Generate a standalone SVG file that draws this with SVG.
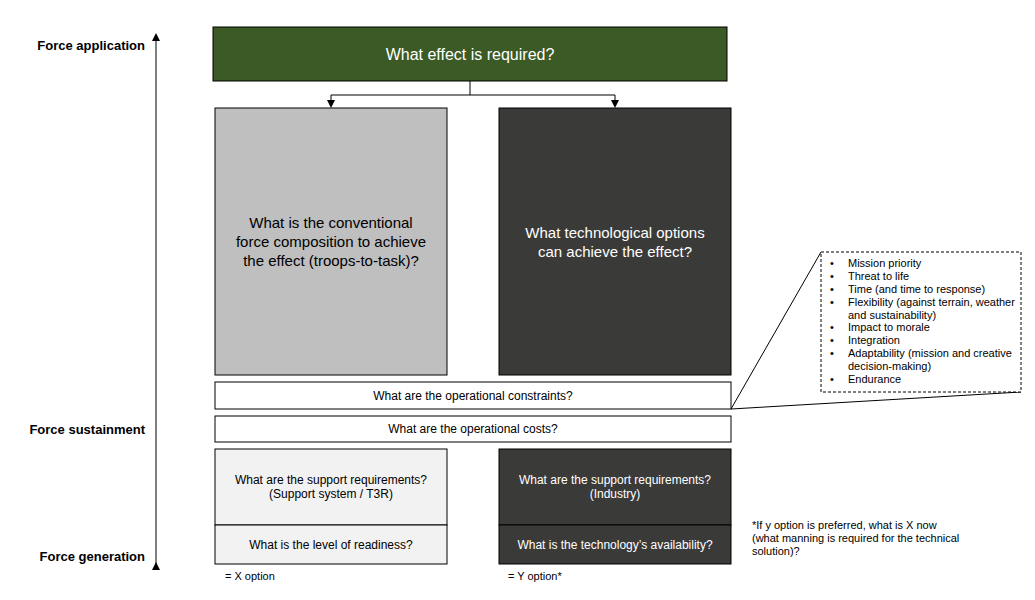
<svg xmlns="http://www.w3.org/2000/svg" width="1035" height="600" viewBox="0 0 1035 600">
<defs>
<marker id="ah" markerWidth="8" markerHeight="8" refX="4" refY="4" orient="auto" markerUnits="userSpaceOnUse"><path d="M0,0 L8,4 L0,8 z" fill="#000"/></marker>
<style>
text{font-family:"Liberation Sans",Arial,sans-serif;}
.lab{font-size:13px;font-weight:bold;text-anchor:end;fill:#000}
.box{stroke:#000;stroke-width:1}
.s{font-size:12px;text-anchor:middle}
.b{font-size:11px}
.ln{stroke:#000;stroke-width:1;fill:none}
</style>
</defs>
<rect width="1035" height="600" fill="#fff"/>
<g id="labels">
<text class="lab" x="145" y="50">Force application</text>
<text class="lab" x="145" y="434">Force sustainment</text>
<text class="lab" x="145" y="561">Force generation</text>
</g>
<g id="connectors">
<line class="ln" x1="156" y1="566" x2="156" y2="37" marker-end="url(#ah)" marker-start="url(#ah)"/>
<path class="ln" d="M470,81 V95 H331 V104" marker-end="url(#ah)"/>
<path class="ln" d="M470,95 H615 V104" marker-end="url(#ah)"/>
<path class="ln" d="M821,252 L731,409 L1021,392"/>
</g>
<g id="effect"><rect class="box" x="213" y="27" width="514" height="54" fill="#3b5a25"/><text x="470" y="60" font-size="16" fill="#fff" text-anchor="middle">What effect is required?</text></g>
<g id="conventional"><rect class="box" x="215" y="108" width="232" height="267" fill="#bfbfbf"/><text font-size="15" text-anchor="middle" fill="#000"><tspan x="331" y="228">What is the conventional</tspan><tspan x="331" y="247">force composition to achieve</tspan><tspan x="331" y="266">the effect (troops-to-task)?</tspan></text></g>
<g id="tech"><rect class="box" x="499" y="108" width="232" height="267" fill="#3a3a38"/><text font-size="15" text-anchor="middle" fill="#fff"><tspan x="615" y="238">What technological options</tspan><tspan x="615" y="257">can achieve the effect?</tspan></text></g>
<g id="constraints"><rect class="box" x="215" y="382" width="516" height="27" fill="#fff"/><text class="s" x="473" y="400">What are the operational constraints?</text></g>
<g id="costs"><rect class="box" x="215" y="416" width="516" height="26" fill="#fff"/><text class="s" x="473" y="433">What are the operational costs?</text></g>
<g id="supportL"><rect class="box" x="215" y="449" width="232" height="76" fill="#f2f2f2"/><text class="s"><tspan x="331" y="484">What are the support requirements?</tspan><tspan x="331" y="498">(Support system / T3R)</tspan></text></g>
<g id="readiness"><rect class="box" x="215" y="525" width="232" height="39" fill="#f2f2f2"/><text class="s" x="331" y="549">What is the level of readiness?</text></g>
<g id="supportR"><rect class="box" x="499" y="449" width="232" height="76" fill="#3a3a38"/><text class="s" fill="#fff"><tspan x="615" y="484">What are the support requirements?</tspan><tspan x="615" y="498">(Industry)</tspan></text></g>
<g id="availability"><rect class="box" x="499" y="525" width="232" height="39" fill="#3a3a38"/><text class="s" x="615" y="549" fill="#fff">What is the technology’s availability?</text></g>
<g id="criteria"><rect x="821" y="252" width="200" height="140" fill="#fff" stroke="#000" stroke-dasharray="3,2"/>
<text class="b"><tspan x="830" y="267">•</tspan><tspan x="848" y="267">Mission priority</tspan><tspan x="830" y="280">•</tspan><tspan x="848" y="280">Threat to life</tspan><tspan x="830" y="293">•</tspan><tspan x="848" y="293">Time (and time to response)</tspan><tspan x="830" y="306">•</tspan><tspan x="848" y="306">Flexibility (against terrain, weather</tspan><tspan x="848" y="319">and sustainability)</tspan><tspan x="830" y="331">•</tspan><tspan x="848" y="331">Impact to morale</tspan><tspan x="830" y="344">•</tspan><tspan x="848" y="344">Integration</tspan><tspan x="830" y="357">•</tspan><tspan x="848" y="357">Adaptability (mission and creative</tspan><tspan x="848" y="370">decision-making)</tspan><tspan x="830" y="383">•</tspan><tspan x="848" y="383">Endurance</tspan></text></g>
<g id="notes">
<text class="b" x="225" y="580">= X option</text>
<text class="b" x="508" y="580">= Y option*</text>
<text class="b"><tspan x="752" y="529">*If y option is preferred, what is X now</tspan><tspan x="752" y="542">(what manning is required for the technical</tspan><tspan x="752" y="555">solution)?</tspan></text>
</g>
</svg>
